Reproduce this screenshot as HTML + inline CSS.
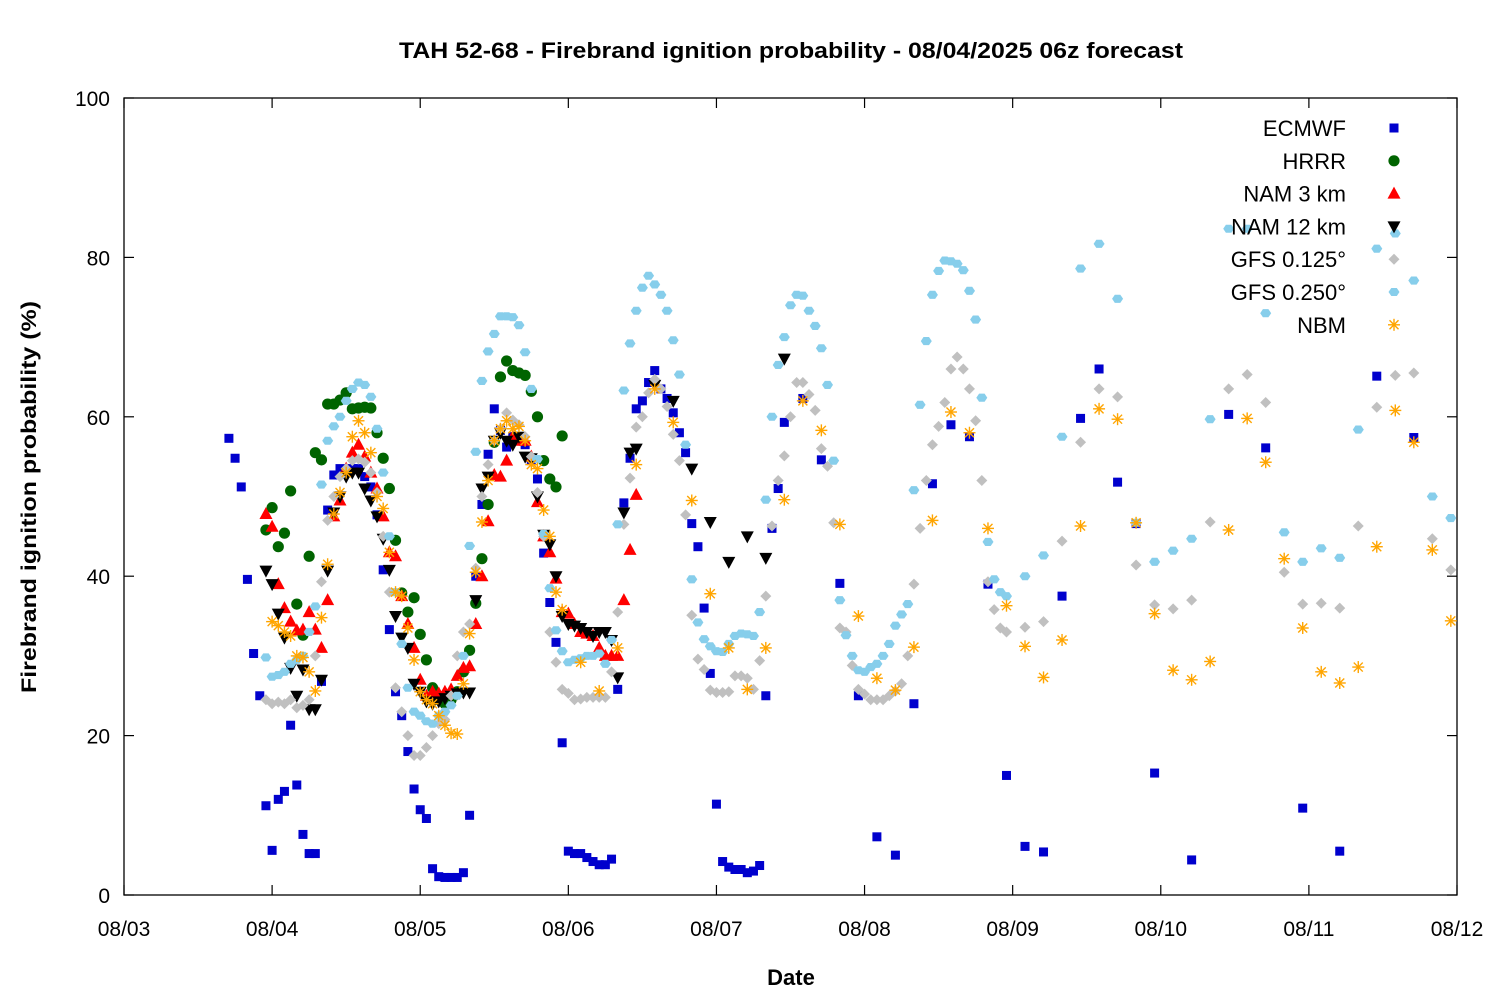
<!DOCTYPE html>
<html><head><meta charset="utf-8"><style>
body{margin:0;background:#fff;}
svg{display:block;font-family:"Liberation Sans","DejaVu Sans",sans-serif;}
</style></head><body>
<svg id="chart" width="1500" height="1000" viewBox="0 0 1500 1000" xmlns="http://www.w3.org/2000/svg">
<rect width="1500" height="1000" fill="#fff"/>
<text x="791" y="58" text-anchor="middle" font-size="22" font-weight="bold" textLength="784" lengthAdjust="spacingAndGlyphs">TAH 52-68 - Firebrand ignition probability - 08/04/2025 06z forecast</text>
<text x="791" y="985" text-anchor="middle" font-size="22" font-weight="bold">Date</text>
<text transform="translate(36,497) rotate(-90)" text-anchor="middle" font-size="21" font-weight="bold" textLength="392" lengthAdjust="spacingAndGlyphs">Firebrand ignition probability (%)</text>
<g id="axes"></g><g id="marks"></g><g id="legend"></g>
</svg>
<script>
const xTickLabels=["08/03","08/04","08/05","08/06","08/07","08/08","08/09","08/10","08/11","08/12"];
const yTickValues=[0,20,40,60,80,100];
function range(a,b,s){const r=[];for(let i=a;i<=b;i+=s)r.push(i);return r;}
// hours since 08/03 00z
const ecmwfTimes=range(17,107,1).concat(range(110,164,3)).concat(range(167,209,6));
const ecmwfValues=[57.3,54.8,51.2,39.6,30.3,25,11.2,5.6,12,13,21.3,13.8,7.6,5.2,5.2,26.8,48.3,52.7,53.5,53,53.5,53.5,52.5,51.2,47.7,40.8,33.3,25.5,22.5,18,13.3,10.7,9.6,3.3,2.3,2.2,2.2,2.2,2.8,10,40,49,55.3,61,58.3,56.2,57.5,57,56.5,54.5,52.2,42.9,36.7,31.7,19.1,5.5,5.2,5.2,4.7,4.2,3.8,3.8,4.5,25.8,49.2,54.8,61,62,64.3,65.8,63.5,62.3,60.5,58,55.5,46.6,43.7,36,27.8,11.4,4.2,3.5,3.2,3.2,2.8,3,3.7,25,46,51,59.3,
62.3,54.6,39.1,25,7.3,5,24,51.6,59,57.5,39,15,6.1,5.4,37.5,59.8,66,51.8,46.6,
15.3,4.4,60.3,56.1,10.9,5.5,65.1,57.4];
const hrrrTimes=range(23,71,1);
const hrrrValues=[45.8,48.6,43.7,45.4,50.7,36.5,32.6,42.5,55.5,54.6,61.6,61.6,62.1,63,61,61.1,61.2,61.1,58,54.8,51,44.5,37.9,35.5,37.3,32.7,29.5,26,24.5,24,24.5,25.5,28,30.7,36.6,42.2,49,56.8,65,67,65.8,65.5,65.2,63.2,60,54.5,52.2,51.2,57.6];
const nam3Times=range(23,83,1);
const nam3Values=[47.8,46.2,39,36,34.3,33.2,33.3,35.5,33.3,31,37,47.5,49.5,53.5,55.5,56.5,55,53,51,47.5,43,42.5,37.5,34,31,27,25,25.5,25.3,25.5,25.8,27.5,28.5,28.7,34,40,46.9,52.7,52.5,54.5,57.5,57,57,55,49.3,45,43,39.7,35.5,35.3,34,33,32.8,32.5,31,30,30,30,37,43.3,50.2];
const nam12Times=range(23,83,1).concat(range(86,107,3));
const nam12Values=[40.7,39,35.3,32.3,28.5,25,28.3,23.3,23.3,27,40.7,48,50,52.5,53,53,51,49.5,47.5,44.7,40.8,35,32.3,31,26.5,25.5,24.3,24,24.3,24.7,25,25.3,25.4,25.4,37,51,52.5,57,58,57,56.5,57.5,55,54.8,50,45.2,44,40,35,34,33.8,33.5,33,32.5,33,33,32,27.3,48,55.5,56,
64,62,53.5,46.8,41.8,45,42.3,67.3];
const gfs125Times=range(23,143,1).concat(range(146,215,3));
const gfs125Values=[24.5,24,24.2,24,24.5,23.5,23.8,24.5,30,39.3,47,50,52.5,53.5,54.5,54.7,54.3,53,50.5,45,38,26,23,20,17.5,17.5,18.5,20,21.5,22,25,30,33,34,41,50,54,57,58.5,60.5,59.6,59,57.5,55,50.5,45,33,29.2,25.8,25.3,24.5,24.6,24.8,24.8,24.8,24.8,28,35.5,46.5,52.3,58.7,60,63,64.7,63.5,61.3,57.8,54.5,47.7,35.1,29.6,28.3,25.7,25.4,25.4,25.5,27.5,27.5,27.2,25.8,29.4,37.5,46.3,52,55.1,60,64.3,64.3,62.8,60.8,56,53.8,46.7,33.5,33,28.8,25.8,25.2,24.5,24.5,24.5,25,25.6,26.5,30,39,46,52,56.5,58.8,61.8,66,67.5,66,63.5,59.5,52,39.3,35.8,33.5,33,
33.6,34.3,44.4,56.8,63.5,62.5,41.4,36.4,35.9,37,46.8,63.5,65.3,61.8,40.5,36.5,36.6,36,46.3,61.2,65.2,65.5,44.7,40.8];
const gfs250Times=range(23,143,1).concat(range(146,215,3));
const gfs250Values=[29.8,27.4,27.6,28,29,29.5,30,33,36.2,51.5,57,58.8,60,62,63.5,64.3,64,62.5,58.5,53,45,38,31.5,26,23,22.5,21.8,21.5,22.5,23,23.8,25,30,43.8,55.6,64.5,68.2,70.4,72.6,72.6,72.5,71.5,68.1,63.5,54.7,45.3,38.5,33.2,30.6,29.2,29.5,29.7,30,30,30.3,29,32,46.5,63.3,69.2,73.3,76.2,77.7,76.6,75.3,73.3,69.6,65.3,56.5,39.6,34.2,32.1,31.2,30.6,30.5,31.5,32.5,32.8,32.7,32.5,35.5,49.6,60,66.5,70,74,75.3,75.2,73.3,71.4,68.6,64,54.5,37,32.6,30,28.2,28,28.6,29,30,31.5,33.8,35.2,36.5,50.8,61.5,69.5,75.3,78.3,79.6,79.5,79.2,78.4,75.8,72.2,62.4,44.3,39.6,38,37.5,
40,42.6,57.5,78.6,81.7,74.8,46.7,41.8,43.2,44.7,59.7,83.6,83.6,73,45.5,41.8,43.5,42.3,58.4,81.1,83,77.1,50,47.3];
const nbmTimes=range(24,71,1).concat(range(74,215,3));
const nbmValues=[34.3,33.8,33,32.5,30,29.8,28,25.6,34.8,41.5,47.8,50.5,53,57.5,59.5,58,55.5,50,48.5,43,38,37.5,33.5,29.5,25.5,24.5,24,22.5,21.3,20.3,20.2,26.5,32.8,40.5,46.8,52,57,58.5,59.5,58.5,58.8,57,54,53.5,48.3,45,38,35.8,
29.2,25.6,31,54,63.5,59.3,49.5,37.8,31,25.8,31,49.6,62,58.3,46.5,35,27.2,25.7,31.1,47,60.6,58,46,36.3,31.2,27.3,32,46.3,61,59.7,46.7,35.3,28.2,27,29.3,45.8,59.8,54.3,42.2,33.5,28,26.6,28.6,43.7,60.8,56.8,43.3,34.4];

const X0=124,X1=1457,Y0=895,Y1=98;
const xScale=h=>X0+(X1-X0)*h/216;
const yScale=v=>Y0-(Y0-Y1)*v/100;
const NS="http://www.w3.org/2000/svg";
function mk(tag,attrs,parent){const e=document.createElementNS(NS,tag);for(const k in attrs)e.setAttribute(k,attrs[k]);parent.appendChild(e);return e;}
const axes=document.getElementById('axes');
const frame=mk('rect',{x:X0,y:Y1,width:X1-X0,height:Y0-Y1,fill:'none',stroke:'#000','stroke-width':1.3},axes);


xTickLabels.forEach((lab,i)=>{
  const x=xScale(i*24);
  mk('line',{x1:x,x2:x,y1:Y0,y2:Y0-10,stroke:'#000','stroke-width':1.2},axes);
  mk('line',{x1:x,x2:x,y1:Y1,y2:Y1+10,stroke:'#000','stroke-width':1.2},axes);
  const t=mk('text',{x:x,y:936,'text-anchor':'middle','font-size':21},axes);
  t.textContent=lab;
  
  
});
yTickValues.forEach(v=>{
  const y=yScale(v);
  mk('line',{x1:X0,x2:X0+10,y1:y,y2:y,stroke:'#000','stroke-width':1.2},axes);
  mk('line',{x1:X1,x2:X1-10,y1:y,y2:y,stroke:'#000','stroke-width':1.2},axes);
  const t=mk('text',{x:110,y:y+8,'text-anchor':'end','font-size':21},axes);
  t.textContent=v;
  
  
});
function hexPts(x,y,r){let p=[];for(let i=0;i<6;i++){const a=Math.PI/3*i;p.push((x+r*Math.cos(a)).toFixed(1)+','+(y+r*Math.sin(a)*0.85).toFixed(1));}return p.join(' ');}
function marker(kind,x,y,g){
  let e;
  if(kind==='sq')e=mk('rect',{x:x-4.5,y:y-4.5,width:9,height:9,fill:'#0000cd'},g);
  else if(kind==='circ')e=mk('circle',{cx:x,cy:y,r:5.6,fill:'#006400'},g);
  else if(kind==='tri')e=mk('polygon',{points:`${x},${y-7} ${x-6.5},${y+5} ${x+6.5},${y+5}`,fill:'#ff0000'},g);
  else if(kind==='dtri')e=mk('polygon',{points:`${x},${y+7} ${x-6.5},${y-5} ${x+6.5},${y-5}`,fill:'#000'},g);
  else if(kind==='dia')e=mk('polygon',{points:`${x},${y-5.5} ${x+5.5},${y} ${x},${y+5.5} ${x-5.5},${y}`,fill:'#c0c0c0'},g);
  else if(kind==='hex')e=mk('polygon',{points:hexPts(x,y,5.5),fill:'#87ceeb'},g);
  else {e=mk('g',{stroke:'#ffa500','stroke-width':1.4},g);
    mk('line',{x1:x-6,x2:x+6,y1:y,y2:y},e);mk('line',{x1:x,x2:x,y1:y-6,y2:y+6},e);
    mk('line',{x1:x-4.5,x2:x+4.5,y1:y-4.5,y2:y+4.5},e);mk('line',{x1:x-4.5,x2:x+4.5,y1:y+4.5,y2:y-4.5},e);}
  return e;
}
const series=[
  {name:'ECMWF',kind:'sq',t:ecmwfTimes,v:ecmwfValues,id:'ecmwf'},
  {name:'HRRR',kind:'circ',t:hrrrTimes,v:hrrrValues,id:'hrrr'},
  {name:'NAM 3 km',kind:'tri',t:nam3Times,v:nam3Values,id:'nam-3km'},
  {name:'NAM 12 km',kind:'dtri',t:nam12Times,v:nam12Values,id:'nam-12km'},
  {name:'GFS 0.125°',kind:'dia',t:gfs125Times,v:gfs125Values,id:'gfs-0125'},
  {name:'GFS 0.250°',kind:'hex',t:gfs250Times,v:gfs250Values,id:'gfs-0250'},
  {name:'NBM',kind:'ast',t:nbmTimes,v:nbmValues,id:'nbm'}
];
const marks=document.getElementById('marks');
series.forEach(s=>{
  const g=mk('g',{},marks);
  
  
  const n=Math.min(s.t.length,s.v.length);
  for(let i=0;i<n;i++){
    const m=marker(s.kind,xScale(s.t[i]),yScale(s.v[i]),g);
    
    
  }
});
const legend=document.getElementById('legend');


series.forEach((s,i)=>{
  const y=128+i*32.8;
  const g=mk('g',{},legend);
  
  
  const t=mk('text',{x:1346,y:y+8,'text-anchor':'end','font-size':22},g);
  t.textContent=s.name;
  marker(s.kind,1394,y,g);
});
</script>
</body></html>
